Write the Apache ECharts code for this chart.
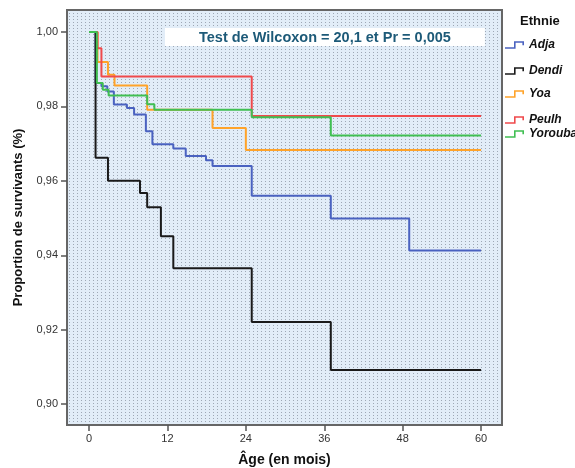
<!DOCTYPE html>
<html>
<head>
<meta charset="utf-8">
<script src="https://cdn.jsdelivr.net/npm/echarts@6/dist/echarts.min.js"></script>
<style>
html, body { margin: 0; padding: 0; background: #fff; }
#main { width: 575px; height: 468px; }
</style>
</head>
<body>
<div id="main"></div>
<script>
var groupNames = ['Adja', 'Dendi', 'Yoa', 'Peulh', 'Yorouba'];
var groupColors = ['#4a62c0', '#1a1a1a', '#ffa329', '#ef4a4c', '#40bf52'];

var adjaT = [0, 1.0, 1.9, 2.8, 3.8, 5.8, 6.9, 8.7, 9.7, 12.9, 14.8, 17.9, 18.9, 24.9, 37, 49, 60];
var adjaS = [1, 0.9863, 0.9854, 0.9840, 0.9805, 0.9796, 0.9778, 0.9733, 0.9698, 0.9687, 0.9667, 0.9655, 0.9640, 0.9560, 0.9499, 0.9413, 0.9413];

var dendiT = [0, 1.0, 2.9, 7.8, 8.9, 11.0, 12.9, 24.9, 37, 60];
var dendiS = [1, 0.9662, 0.9600, 0.9567, 0.9529, 0.9451, 0.9365, 0.9221, 0.9092, 0.9092];

var yoaT = [0, 1.3, 2.9, 3.9, 8.9, 18.9, 24.0, 60];
var yoaS = [1, 0.9919, 0.9885, 0.9856, 0.9791, 0.9742, 0.9683, 0.9683];

var peulhT = [0, 1.3, 1.9, 24.9, 60];
var peulhS = [1, 0.9956, 0.9880, 0.9774, 0.9774];

var yoroubaT = [0, 1.2, 2.1, 3.0, 8.9, 10.0, 24.9, 37, 60];
var yoroubaS = [1, 0.9863, 0.9845, 0.9829, 0.9806, 0.9791, 0.9771, 0.9722, 0.9722];

var xTicks = [0, 12, 24, 36, 48, 60];
var yTicks = [0.90, 0.92, 0.94, 0.96, 0.98, 1.00];

var allT = [adjaT, dendiT, yoaT, peulhT, yoroubaT];
var allS = [adjaS, dendiS, yoaS, peulhS, yoroubaS];

// fond pointillé (style SPSS)
var cv = document.createElement('canvas');
cv.width = 4;
cv.height = 3;
var cx = cv.getContext('2d');
cx.fillStyle = '#e2edf8';
cx.fillRect(0, 0, 4, 3);
cx.fillStyle = '#9ea8b5';
cx.fillRect(1, 1, 1, 1);

var series = [];
var legends = [];
var legendTops = [39, 65, 88, 114, 128];
// petite marche "_⌐" comme dans la légende SPSS
var stepIcon = 'path://M0,6 L9,6 L9,0 L19,0 L19,4 L17.4,4 L17.4,1.6 L10.6,1.6 L10.6,7.6 L0,7.6 Z';
for (var i = 0; i < groupNames.length; i++) {
	var d = [];
	for (var j = 0; j < allT[i].length; j++) {
		d.push([allT[i][j], allS[i][j]]);
	}
	series.push({
		name: groupNames[i],
		type: 'line',
		step: 'end',
		data: d,
		showSymbol: false,
		symbol: 'none',
		color: groupColors[i],
		lineStyle: { width: 2, color: groupColors[i] }
	});
	legends.push({
		data: [{ name: groupNames[i], icon: stepIcon }],
		left: 505,
		top: legendTops[i],
		itemWidth: 19,
		itemHeight: 8,
		padding: 0,
		itemStyle: { borderWidth: 0 },
		textStyle: {
			fontFamily: 'Liberation Sans',
			fontWeight: 'bold',
			fontStyle: 'italic',
			fontSize: 12,
			color: '#111'
		}
	});
}

var myChart = echarts.init(document.getElementById('main'));
var option = {
	animation: false,
	backgroundColor: '#fff',
	title: [{
		text: 'Test de Wilcoxon = 20,1 et Pr = 0,005',
		left: 165,
		top: 28,
		padding: [2, 34, 1, 34],
		backgroundColor: '#fff',
		textStyle: {
			fontFamily: 'Liberation Sans',
			fontWeight: 'bold',
			fontSize: 14.5,
			lineHeight: 15,
			color: '#1d5a78'
		}
	}, {
		text: 'Ethnie',
		left: 520,
		top: 15,
		padding: 0,
		textStyle: {
			fontFamily: 'Liberation Sans',
			fontWeight: 'bold',
			fontSize: 13,
			color: '#111'
		}
	}],
	legend: legends,
	grid: {
		left: 67,
		right: 73,
		top: 10,
		bottom: 43,
		outerBoundsMode: 'none',
		show: true,
		backgroundColor: { image: cv, repeat: 'repeat' },
		borderColor: '#666',
		borderWidth: 2
	},
	xAxis: {
		type: 'value',
		min: -3.37,
		max: 63.2,
		name: 'Âge (en mois)',
		nameLocation: 'middle',
		nameGap: 28,
		nameTextStyle: { fontFamily: 'Liberation Sans', fontWeight: 'bold', fontSize: 14, color: '#111' },
		axisLine: { show: false, onZero: false },
		splitLine: { show: false },
		axisTick: { show: true, inside: false, length: 6, customValues: xTicks, lineStyle: { color: '#555', width: 1.5 } },
		axisLabel: {
			customValues: xTicks,
			margin: 8,
			fontFamily: 'Liberation Sans',
			fontSize: 11,
			color: '#333'
		}
	},
	yAxis: {
		type: 'value',
		min: 0.8944,
		max: 1.0059,
		name: 'Proportion de survivants (%)',
		nameLocation: 'middle',
		nameGap: 42,
		nameTextStyle: { fontFamily: 'Liberation Sans', fontWeight: 'bold', fontSize: 13, color: '#111' },
		axisLine: { show: false, onZero: false },
		splitLine: { show: false },
		axisTick: { show: true, inside: false, length: 6, customValues: yTicks, lineStyle: { color: '#555', width: 1.5 } },
		axisLabel: {
			customValues: yTicks,
			margin: 9,
			fontFamily: 'Liberation Sans',
			fontSize: 11,
			color: '#333',
			formatter: function (v) { return v.toFixed(2).replace('.', ','); }
		}
	},
	series: series
};
myChart.setOption(option);
</script>
</body>
</html>
